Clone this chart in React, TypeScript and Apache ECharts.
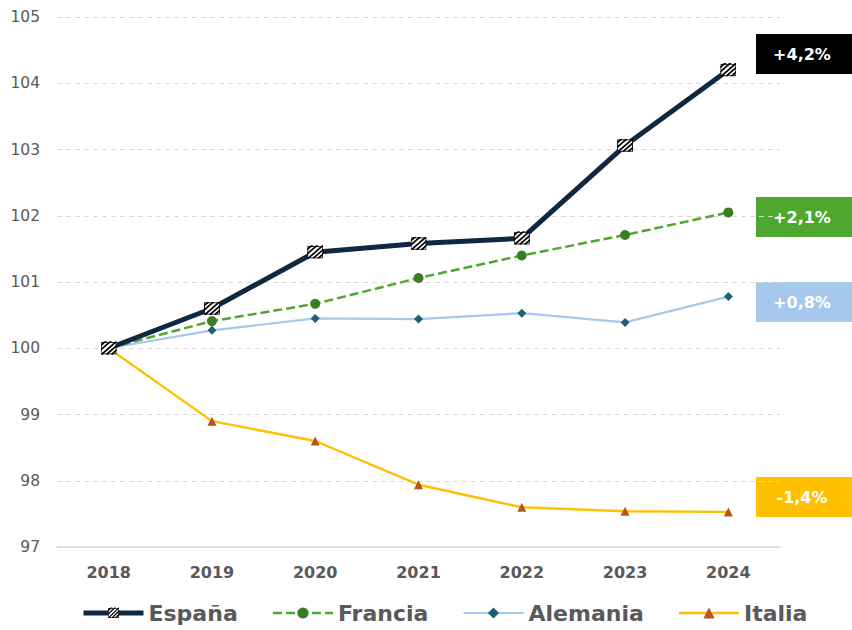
import React, { useEffect, useRef } from "react";
import * as echarts from "echarts";

const years = ["2018", "2019", "2020", "2021", "2022", "2023", "2024"];
const espana = [100, 100.6, 101.45, 101.58, 101.66, 103.06, 104.2];
const francia = [100, 100.41, 100.67, 101.06, 101.4, 101.71, 102.05];
const alemania = [100, 100.27, 100.45, 100.44, 100.53, 100.39, 100.78];
const italia = [100, 98.9, 98.6, 97.94, 97.6, 97.54, 97.53];
const endLabels = [
  { text: "+4,2%", bg: "#000000", y: 54 },
  { text: "+2,1%", bg: "#4EA72E", y: 217 },
  { text: "+0,8%", bg: "#A6C8EC", y: 302 },
  { text: "-1,4%", bg: "#FFC000", y: 497 },
];

const hatchSvg =
  "<svg xmlns='http://www.w3.org/2000/svg' width='16' height='14' viewBox='0 0 16 14'>" +
  "<rect x='0.5' y='0.5' width='15' height='13' fill='white' stroke='#111' stroke-width='1'/>" +
  "<g stroke='#000' stroke-width='1.8'>" +
  "<line x1='-2' y1='6' x2='6' y2='-2'/>" +
  "<line x1='-2' y1='11' x2='11' y2='-2'/>" +
  "<line x1='1' y1='14' x2='16' y2='-1'/>" +
  "<line x1='6' y1='14' x2='18' y2='2'/>" +
  "<line x1='11' y1='14' x2='18' y2='7'/>" +
  "</g></svg>";
const hatchSymbol = "image://data:image/svg+xml;charset=utf-8," + encodeURIComponent(hatchSvg);

export default function App() {
  const ref = useRef<HTMLDivElement>(null);
  useEffect(() => {
    if (!ref.current) return;
    const chart = echarts.init(ref.current, null, { renderer: "svg" });
    const font = "DejaVu Sans";
    chart.setOption({
      animation: false,
      backgroundColor: "#ffffff",
      grid: { left: 57, right: 72, top: 17, bottom: 83, containLabel: false },
      xAxis: {
        type: "category",
        data: years,
        boundaryGap: true,
        axisLine: { show: true, lineStyle: { color: "#D9D9D9", width: 1.5 } },
        axisTick: { show: false },
        axisLabel: { color: "#595959", fontFamily: font, fontWeight: "bold", fontSize: 16, margin: 17 },
      },
      yAxis: {
        type: "value",
        min: 97,
        max: 105,
        interval: 1,
        axisLine: { show: false },
        axisTick: { show: false },
        axisLabel: { color: "#595959", fontFamily: font, fontSize: 15.5, margin: 17 },
        splitLine: { lineStyle: { color: "#D9D9D9", type: [5, 4], width: 1 } },
      },
      legend: {
        left: 76,
        top: 597,
        itemWidth: 60,
        itemHeight: 14,
        itemGap: 34,
        lineStyle: { width: "inherit" },
        textStyle: { color: "#595959", fontFamily: font, fontWeight: "bold", fontSize: 22 },
        data: ["España", "Francia", "Alemania", "Italia"],
      },
      series: [
        {
          name: "Italia",
          type: "line",
          data: italia,
          z: 2,
          symbol: "triangle",
          symbolSize: 9,
          lineStyle: { color: "#FFC000", width: 2.4 },
          itemStyle: { color: "#B5561B" },
        },
        {
          name: "Alemania",
          type: "line",
          data: alemania,
          z: 3,
          symbol: "diamond",
          symbolSize: 9,
          lineStyle: { color: "#A6C8EC", width: 2.2 },
          itemStyle: { color: "#215E79" },
        },
        {
          name: "Francia",
          type: "line",
          data: francia,
          z: 4,
          symbol: "circle",
          symbolSize: 10,
          lineStyle: { color: "#4EA72E", width: 2.5, type: [9, 4] },
          itemStyle: { color: "#3A7D22" },
        },
        {
          name: "España",
          type: "line",
          data: espana,
          z: 5,
          symbol: hatchSymbol,
          symbolSize: [16, 14],
          lineStyle: { color: "#0E2841", width: 5 },
          itemStyle: { color: "#0E2841" },
        },
      ],
      graphic: endLabels.map((l) => ({
        type: "group",
        left: 756,
        top: l.y - 20,
        children: [
          { type: "rect", shape: { x: 0, y: 0, width: 96, height: 40 }, style: { fill: l.bg } },
          {
            type: "text",
            x: 46,
            y: 20,
            style: {
              text: l.text,
              fill: "#ffffff",
              fontFamily: font,
              fontWeight: "bold",
              fontSize: 16,
              align: "center",
              verticalAlign: "middle",
            },
          },
        ],
      })),
    });
    return () => chart.dispose();
  }, []);
  return (
    <div
      ref={ref}
      style={{ position: "fixed", left: 0, top: 0, width: 852, height: 630 }}
    />
  );
}
